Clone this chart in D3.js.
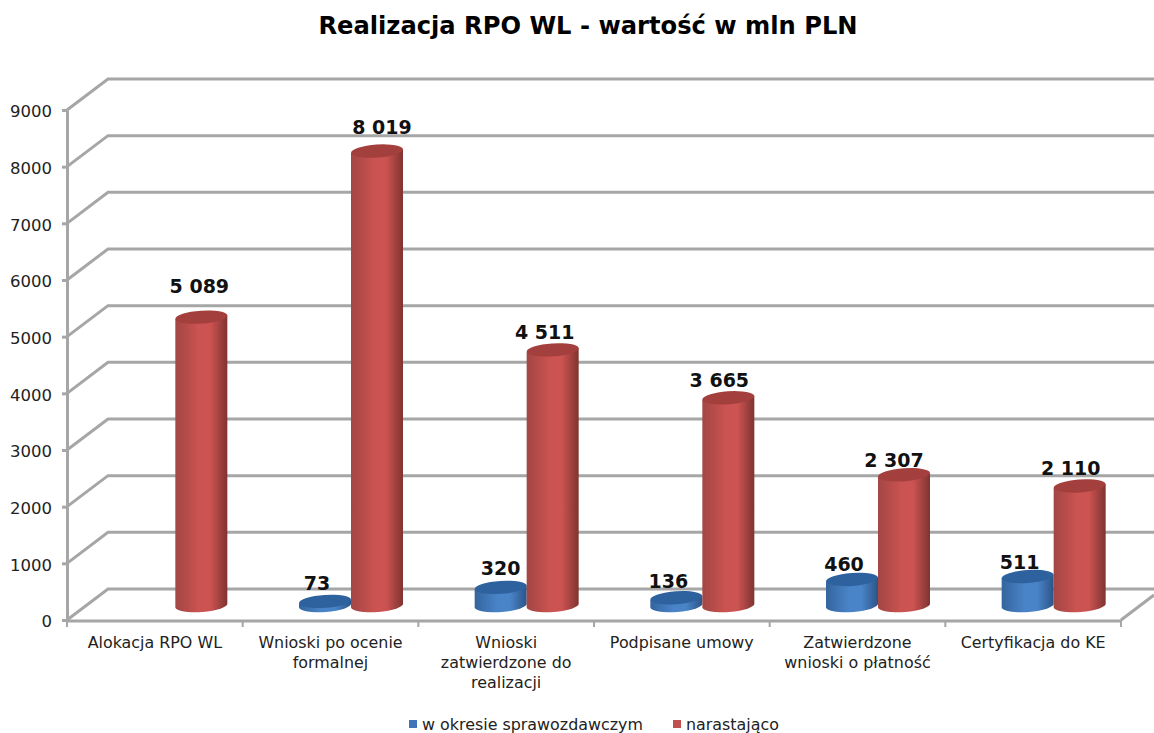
<!DOCTYPE html>
<html>
<head>
<meta charset="utf-8">
<script src="https://cdn.jsdelivr.net/npm/d3@7"></script>
<style>
  html, body { margin: 0; background: #fff; }
  text { font-family: "DejaVu Sans", Verdana, sans-serif; }
</style>
</head>
<body>
<svg id="chart" width="1154" height="733"></svg>
<script>
// Chart data.
var categories = ["Alokacja RPO WL", "Wnioski po ocenie\nformalnej", "Wnioski\nzatwierdzone do\nrealizacji", "Podpisane umowy", "Zatwierdzone\nwnioski o płatność", "Certyfikacja do KE"];
var seriesNames = ["w okresie sprawozdawczym", "narastająco"];
var okresValues = [null, 73, 320, 136, 460, 511];
var narastajacoValues = [5089, 8019, 4511, 3665, 2307, 2110];
var yTicks = [0, 1000, 2000, 3000, 4000, 5000, 6000, 7000, 8000, 9000];

var svg = d3.select('#chart');
var defs = svg.append('defs');

// Plot box of the fake 3D chart: front plane plus a depth offset.
var depthX = 41, depthY = -31;
var x = d3.scaleBand().domain(categories).range([67, 1121]);
var y = d3.scaleLinear().domain([0, 9000]).range([620, 110]);
var seriesX = d3.scaleBand().domain(seriesNames).range([0, 104]);
var formatValue = d3.formatLocale({decimal: ',', thousands: ' ', grouping: [3], currency: ['', '']}).format(',d');

var gridColor = '#a6a6a6';
var colors = {
  'w okresie sprawozdawczym': {left: '#33659f', mid: '#4a84c8', right: '#2b5488', top: '#2f629f', key: '#3f74b8'},
  'narastająco': {left: '#a24644', mid: '#cb5351', right: '#7f3331', top: '#a33f3d', key: '#c0504d'}
};

// Horizontal gradient that makes a rect look round.
seriesNames.forEach(function(name, i){
  var grad = defs.append('linearGradient').attr('id', 'cyl' + i);
  grad.append('stop').attr('offset', '0%').attr('stop-color', colors[name].left);
  grad.append('stop').attr('offset', '45%').attr('stop-color', colors[name].mid);
  grad.append('stop').attr('offset', '68%').attr('stop-color', colors[name].mid);
  grad.append('stop').attr('offset', '100%').attr('stop-color', colors[name].right);
});
defs.append('filter').attr('id', 'soft').append('feGaussianBlur').attr('stdDeviation', 0.6);

// Title
svg.append('text')
   .attr('x', 588).attr('y', 34)
   .attr('text-anchor', 'middle')
   .attr('font-size', 24.2).attr('font-weight', 'bold')
   .text('Realizacja RPO WL - wartość w mln PLN');

// Back wall lines and side wall diagonals.
var grid = svg.append('g').attr('stroke', gridColor).attr('stroke-width', 3).attr('fill', 'none');
grid.selectAll('.back').data(yTicks).enter().append('path')
    .attr('class', 'back')
    .attr('d', function(d){
      return 'M' + x.range()[0] + ',' + y(d) + 'L' + (x.range()[0] + depthX) + ',' + (y(d) + depthY) + 'H1154';
    });
grid.append('path').attr('d', 'M' + x.range()[1] + ',' + y(0) + 'L1154,' + (y(0) - 25));

// Value axis.
var yAxis = svg.append('g')
   .attr('transform', 'translate(' + x.range()[0] + ',0)')
   .call(d3.axisLeft(y).tickValues(yTicks).tickFormat(d3.format('d')).tickSize(5).tickSizeOuter(0));
yAxis.selectAll('path, line').attr('stroke', gridColor).attr('stroke-width', 3);
yAxis.selectAll('text').attr('font-size', 16.5).attr('fill', '#222').attr('x', -15).attr('y', 1.5)
     .style('font-family', '"DejaVu Sans", sans-serif');

// Category axis, ticks sit between the categories.
var floor = svg.append('g');
floor.append('line')
     .attr('x1', x.range()[0]).attr('x2', x.range()[1])
     .attr('y1', y(0) + 1).attr('y2', y(0) + 1)
     .attr('stroke', gridColor).attr('stroke-width', 3);
floor.selectAll('.tick').data(categories).enter().append('line')
     .attr('class', 'tick')
     .attr('x1', function(d){ return x(d) + x.bandwidth(); })
     .attr('x2', function(d){ return x(d) + x.bandwidth(); })
     .attr('y1', y(0)).attr('y2', y(0) + 7)
     .attr('stroke', gridColor).attr('stroke-width', 2);
floor.append('line')
     .attr('x1', x.range()[0]).attr('x2', x.range()[0])
     .attr('y1', y(0)).attr('y2', y(0) + 7)
     .attr('stroke', gridColor).attr('stroke-width', 2);

var catLabels = svg.append('g').selectAll('text').data(categories).enter().append('text')
   .attr('text-anchor', 'middle')
   .attr('font-size', 15.9)
   .attr('fill', '#222');
catLabels.selectAll('tspan')
   .data(function(d){ return d.split('\n').map(function(line){ return {line: line, cat: d}; }); })
   .enter().append('tspan')
   .attr('x', function(d){ return x(d.cat) + x.bandwidth() / 2; })
   .attr('y', function(d, i){ return 648 + i * 20; })
   .text(function(d){ return d.line; });

// Render one cylinder.
var rx = 26, ry = 6.5, tilt = 2, baseDrop = 14.5;
var renderCylinder = function(cx, value, seriesIndex){
  var name = seriesNames[seriesIndex];
  var baseY = y(0) - baseDrop;
  var topY = y(value) - baseDrop;
  var g = svg.append('g').attr('filter', 'url(#soft)');
  g.append('path')
   .attr('fill', 'url(#cyl' + seriesIndex + ')')
   .attr('d', 'M' + (cx - rx) + ',' + (topY + tilt) +
              'L' + (cx - rx) + ',' + (baseY + tilt) +
              'A' + rx + ',' + ry + ',-4,0,0,' + (cx + rx) + ',' + (baseY - tilt) +
              'L' + (cx + rx) + ',' + (topY - tilt) + 'Z');
  g.append('ellipse')
   .attr('cx', cx).attr('cy', topY)
   .attr('rx', rx).attr('ry', ry)
   .attr('transform', 'rotate(-4,' + cx + ',' + topY + ')')
   .attr('fill', colors[name].top);
};

// Label nudges, the original labels were placed by hand.
var labelNudge = {
  'w okresie sprawozdawczym': [null, [-8, -11], [0, -12], [-8, -10], [-8, -8], [-8, -8]],
  'narastająco': [[-2, -24], [5, -17], [-8, -11], [-9, -11], [-10, -8], [-9, -11]]
};

[okresValues, narastajacoValues].forEach(function(values, s){
  var name = seriesNames[s];
  categories.forEach(function(cat, i){
    if (values[i] === null) return;
    var cx = x(cat) + x.bandwidth() / 2 + depthX / 2 + seriesX(name) - 52 + seriesX.bandwidth() / 2;
    renderCylinder(cx, values[i], s);
    svg.append('text')
       .attr('x', cx + labelNudge[name][i][0])
       .attr('y', y(values[i]) - baseDrop + labelNudge[name][i][1])
       .attr('text-anchor', 'middle')
       .attr('font-size', 19).attr('font-weight', 'bold')
       .attr('fill', '#111')
       .text(formatValue(values[i]));
  });
});

// Legend
var legendX = d3.scaleOrdinal().domain(seriesNames).range([409, 673]);
var legend = svg.append('g').selectAll('g').data(seriesNames).enter().append('g')
   .attr('transform', function(d){ return 'translate(' + legendX(d) + ',720)'; });
legend.append('rect').attr('width', 8).attr('height', 8)
      .attr('fill', function(d){ return colors[d].key; });
legend.append('text').attr('x', 13).attr('y', 10)
      .attr('font-size', 15.9).attr('fill', '#222')
      .text(function(d){ return d; });
</script>
</body>
</html>
